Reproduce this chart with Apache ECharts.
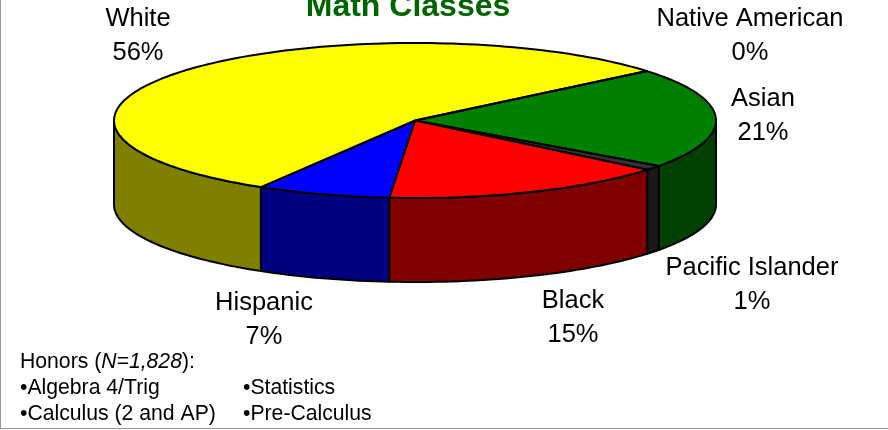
<!DOCTYPE html>
<html>
<head>
<meta charset="utf-8">
<style>html,body{margin:0;padding:0;background:#fff}#chart{width:888px;height:430px}</style>
<script src="https://cdn.jsdelivr.net/npm/echarts@6/dist/echarts.min.js"></script>
</head>
<body>
<div id="chart"></div>
<script>
// Data: clockwise from the White/Asian boundary
const categories = ['Asian', 'Pacific Islander', 'Black', 'Hispanic', 'White', 'Native American'];
const shares = [21.0, 1.0, 15.4, 7.2, 55.5, 0.0];
const topColors = ['#008000', '#333333', '#ff0000', '#0000ff', '#ffff00', '#cccccc'];
const sideColors = ['#004000', '#1a1a1a', '#800000', '#000080', '#808000', '#666666'];
const titleText = 'Math Classes';
const noteHeading = 'Honors ({i|N=1,828}):';
const noteLeft = ['\u2022Algebra 4/Trig', '\u2022Calculus (2 and AP)'];
const noteRight = ['\u2022Statistics', '\u2022Pre-Calculus'];

// Layout
const FONT = '"Liberation Sans", Arial, sans-serif';
const pie = { cx: 415, cy: 120.5, rx: 301, ry: 77.5, depth: 84, startAngle: 50.4 };
const labelCentres = [[763, 116], [752, 285], [573, 318], [264, 320], [138, 36], [750, 36]];

const total = shares.reduce((a, b) => a + b, 0);
let running = pie.startAngle;
const spans = shares.map(v => {
  const s = running;
  running += v / total * 360;
  return [s, running];
});

function arc(a0, a1, dy) {
  const pts = [];
  const n = Math.max(2, Math.ceil(Math.abs(a1 - a0) / 1.5));
  for (let i = 0; i <= n; i++) {
    const t = (a0 + (a1 - a0) * i / n) * Math.PI / 180;
    pts.push([pie.cx + pie.rx * Math.sin(t), pie.cy - pie.ry * Math.cos(t) + dy]);
  }
  return pts;
}
const edge = { stroke: '#000', lineWidth: 2, lineJoin: 'round' };
const noteStyle = { fontFamily: FONT, fontSize: 21.2, fill: '#000', verticalAlign: 'middle' };

const chart = echarts.init(document.getElementById('chart'), null, { renderer: 'canvas' });
chart.setOption({
  animation: false,
  backgroundColor: '#fff',
  title: {
    text: titleText, left: 403, top: -14, textAlign: 'center',
    textStyle: { fontFamily: FONT, fontWeight: 'bold', fontSize: 32, color: '#006400' }
  },
  series: [
    {
      type: 'custom', coordinateSystem: 'none', z: 2, silent: true,
      data: spans,
      renderItem(params, api) {
        const a0 = Math.max(api.value(0), 90), a1 = Math.min(api.value(1), 270);
        if (a0 >= a1) return { type: 'group', children: [] };
        const pts = arc(a0, a1, 0).concat(arc(a1, a0, pie.depth));
        return { type: 'polygon', shape: { points: pts },
          style: Object.assign({ fill: sideColors[params.dataIndex] }, edge) };
      }
    },
    {
      type: 'custom', coordinateSystem: 'none', z: 3, silent: true,
      data: spans,
      renderItem(params, api) {
        const pts = [[pie.cx, pie.cy]].concat(arc(api.value(0), api.value(1), 0));
        return { type: 'polygon', shape: { points: pts },
          style: Object.assign({ fill: topColors[params.dataIndex] }, edge) };
      }
    },
    {
      type: 'custom', coordinateSystem: 'none', z: 4, silent: true,
      data: shares.map(v => [v]),
      renderItem(params, api) {
        const c = labelCentres[params.dataIndex];
        return { type: 'text', x: c[0], y: c[1],
          style: {
            text: categories[params.dataIndex] + '\n' + Math.round(api.value(0)) + '%',
            fontFamily: FONT, fontSize: 25.5, lineHeight: 34.5, fill: '#000',
            align: 'center', verticalAlign: 'middle'
          } };
      }
    }
  ],
  graphic: [
    { type: 'rect', silent: true, shape: { x: 0, y: 0, width: 1, height: 429 }, style: { fill: '#999' } },
    { type: 'rect', silent: true, shape: { x: 0, y: 428, width: 888, height: 1 }, style: { fill: '#999' } },
    { type: 'text', silent: true, x: 20, y: 362, style: Object.assign({ text: noteHeading,
        rich: { i: { fontFamily: FONT, fontSize: 21.2, fontStyle: 'italic', fill: '#000' } } }, noteStyle) },
    { type: 'text', silent: true, x: 20, y: 388, style: Object.assign({ text: noteLeft[0] }, noteStyle) },
    { type: 'text', silent: true, x: 20, y: 414, style: Object.assign({ text: noteLeft[1] }, noteStyle) },
    { type: 'text', silent: true, x: 243, y: 388, style: Object.assign({ text: noteRight[0] }, noteStyle) },
    { type: 'text', silent: true, x: 243, y: 414, style: Object.assign({ text: noteRight[1] }, noteStyle) }
  ]
});
</script>
</body>
</html>
